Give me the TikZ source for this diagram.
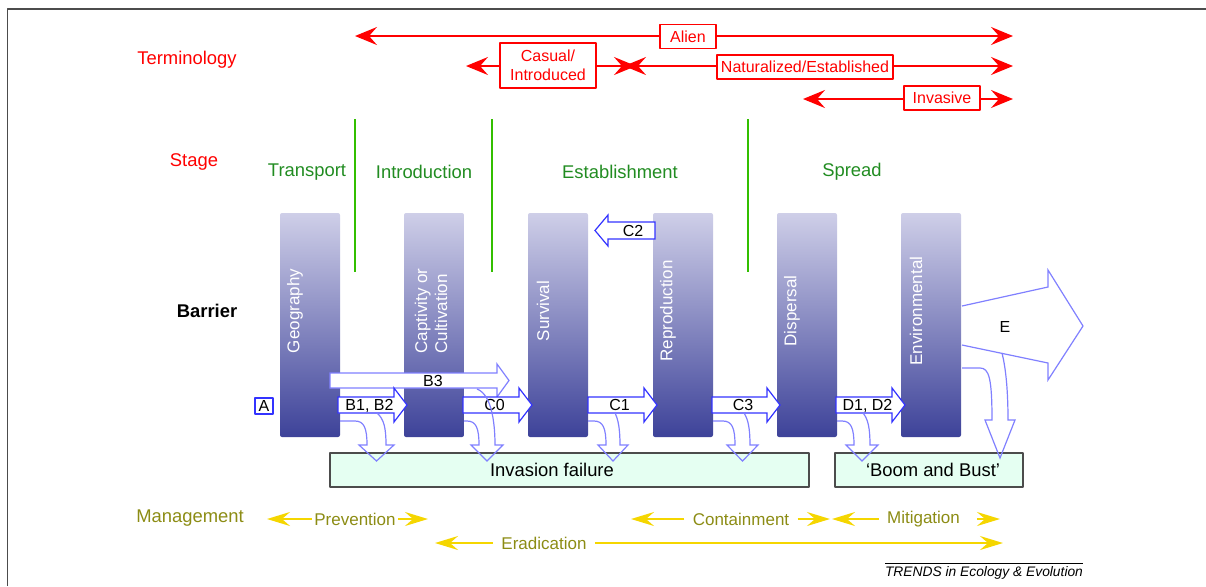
\documentclass[tikz,border=0pt]{standalone}
\usepackage{fontspec}
\setmainfont{Liberation Sans}
\usepackage{tikz}
\usetikzlibrary{calc}
\usetikzlibrary{arrows.meta}
\definecolor{termred}{rgb}{1.,0.,0.}
\definecolor{stagegreen}{rgb}{0.13,0.55,0.13}
\definecolor{stageline}{rgb}{0.2,0.75,0.}
\definecolor{mgmtolive}{rgb}{0.55,0.55,0.08}
\definecolor{mgmtgold}{rgb}{0.96,0.84,0.}
\definecolor{bartop}{rgb}{0.81,0.81,0.91}
\definecolor{barbot}{rgb}{0.24,0.26,0.6}
\definecolor{passblue}{rgb}{0.2,0.2,1.}
\definecolor{failblue}{rgb}{0.5,0.5,1.}
\definecolor{boxmint}{rgb}{0.9,1.,0.95}
\definecolor{framegray}{rgb}{0.3,0.3,0.3}
\tikzstyle{every node}=[font=\fontsize{9.2}{11}\selectfont]
\tikzstyle{termbox}=[draw=termred, fill=white, line width=0.75pt, text=termred, font=\fontsize{8}{9.5}\selectfont, inner sep=1.5pt, minimum height=12pt, align=center]
\tikzstyle{termarrow}=[{Stealth[length=11pt,width=9pt,inset=4pt]}-{Stealth[length=11pt,width=9pt,inset=4pt]}, termred, line width=1pt]
\tikzstyle{stagetext}=[text=stagegreen]
\tikzstyle{stagerule}=[stageline, line width=1pt]
\tikzstyle{barrier}=[top color=bartop, bottom color=barbot, minimum width=30pt, minimum height=112pt, rounded corners=1pt, inner sep=0pt]
\tikzstyle{bartext}=[text=white, rotate=90, font=\fontsize{8.5}{10}\selectfont, align=left]
\tikzstyle{passarrow}=[draw=passblue, fill=white, line width=0.6pt, line join=miter]
\tikzstyle{paleaarrow}=[draw=failblue, fill=white, line width=0.6pt, line join=miter]
\tikzstyle{failarrow}=[draw=failblue, line width=0.6pt, line join=miter]
\tikzstyle{passlabel}=[font=\fontsize{8}{9.5}\selectfont, inner sep=0pt]
\tikzstyle{outcome}=[draw=framegray, fill=boxmint, line width=0.6pt, minimum height=17pt, inner sep=0pt]
\tikzstyle{mgmttext}=[text=mgmtolive, font=\fontsize{8.5}{10}\selectfont, inner sep=4pt]
\tikzstyle{mgmtarrow}=[-{Stealth[length=11.5pt,width=7pt,inset=4pt]}, mgmtgold, line width=1pt]

\begin{document}
\begin{tikzpicture}[line cap=butt,line join=round,x=0.5pt,y=-0.5pt]
    \useasboundingbox (0,0) rectangle (1206,586);
    \draw [framegray, line width=0.9pt] (7.5,586) -- (7.5,9) -- (1206,9);
    % row titles
    \node[text=termred] (terminology) at (187,60) {Terminology};
    \node[text=termred] (stage) at (194,162) {Stage};
    \node[font=\fontsize{9.2}{11}\selectfont\bfseries] (barrier) at (207,311) {Barrier};
    \node[text=mgmtolive] (management) at (190,518) {Management};
    % terminology
    \coordinate (alienL) at (355,36);
    \coordinate (alienR) at (1013,36);
    \coordinate (casualL) at (466,66);
    \coordinate (casualR) at (636,66);
    \coordinate (naturalL) at (624,66);
    \coordinate (naturalR) at (1013,66);
    \coordinate (invasiveL) at (803,99);
    \coordinate (invasiveR) at (1013,99);
    \draw [termarrow] (alienL) -- (alienR);
    \draw [termarrow] (casualL) -- (casualR);
    \draw [termarrow] (naturalL) -- (naturalR);
    \draw [termarrow] (invasiveL) -- (invasiveR);
    \node[termbox, minimum width=28pt] (alien) at (688,36.5) {Alien};
    \node[termbox, minimum width=48pt, minimum height=22.5pt] (casual) at (548,65.5) {Casual/\\Introduced};
    \node[termbox, minimum width=88pt] (natural) at (805,67) {Naturalized/Established};
    \node[termbox, minimum width=38pt] (invasive) at (942,98) {Invasive};
    % stages
    \node[stagetext] (transport) at (307,172) {Transport};
    \node[stagetext] (introduction) at (424,172) {Introduction};
    \node[stagetext] (establishment) at (620,172) {Establishment};
    \node[stagetext] (spread) at (852,172) {Spread};
    \foreach \sx in {355,492,748}
        \draw [stagerule] (\sx,119) -- (\sx,272);
    % barriers
    \foreach \bx/\bname in {310/geo,434/capt,558/surv,683/repro,807/disp,931/env}
        \node[barrier] (bar\bname) at (\bx,325) {};
    \node[bartext] (geotext) at (295,311) {Geography};
    \node[bartext] (capttext) at (431,311) {Captivity or\\Cultivation};
    \node[bartext] (survtext) at (543,311) {Survival};
    \node[bartext] (reprotext) at (668,311) {Reproduction};
    \node[bartext] (disptext) at (792,311) {Dispersal};
    \node[bartext] (envtext) at (916,311) {Environmental};
    % passage arrows
    \draw [paleaarrow] (330,373) -- (497,373) -- (497,364) -- (509,380.5) -- (497,397) -- (497,388) -- (330,388) -- cycle;
    \node[passlabel] (b3) at (433,381) {B3};
    \foreach \xa/\xb/\lab in {338/407/{B1, B2},463/532/C0,588/657/C1,712/780/C3,836/905/{D1, D2}}{
        \draw [passarrow] (\xa,397) -- (\xb-13,397) -- (\xb-13,388) -- (\xb,405) -- (\xb-13,422) -- (\xb-13,413) -- (\xa,413) -- cycle;
        \node[passlabel, anchor=base] at ({(\xa+\xb)/2-3},410.5) {\lab};
    }
    \draw [passarrow] (655,222) -- (608,222) -- (608,215) -- (595,230.5) -- (608,246) -- (608,239) -- (655,239) -- cycle;
    \node[passlabel] (c2) at (633,230.5) {C2};
    \node[passlabel, draw=passblue, fill=white, line width=0.6pt, minimum width=9pt, minimum height=8pt] (a) at (264,406) {A};
    \draw [paleaarrow] (962,306) -- (1048,287) -- (1048,270) -- (1083,326) -- (1048,380) -- (1048,363) -- (962,345);
    \node[passlabel] (e) at (1005,327) {E};
    % outcomes
    \node[outcome, minimum width=239.5pt] (failure) at (569.5,470) {};
    \node (failuretext) at (552,470) {Invasion failure};
    \node[outcome, minimum width=94pt] (boom) at (929,470) {\hspace*{4pt}‘Boom and Bust’};
    \foreach \xa/\sl/\sr/\xo/\yo in {340/367/386/377/413,464/479/495/477/389,588/606/620/615/413,713/735/750/744/413,837/854/870/863/413}
        \draw [failarrow] (\xa,421) -- (\sl-12,421) .. controls (\sl-3,421) and (\sl,428) .. (\sl,445) -- (\sl-8,445) -- ({(\sl+\sr)/2},461) -- (\sr+8,445) -- (\sr,445) .. controls (\sr,428) and (\sr-2,\yo+6) .. (\xo,\yo);
    \draw [failarrow] (962,368) -- (980,368) .. controls (989,368) and (992,378) .. (992,420) -- (985,420) -- (1000,458) -- (1015,420) -- (1008,420) .. controls (1008,385) and (1005,365) .. (1002,353);
    % management
    \node[mgmttext, inner sep=1pt] (prevention) at (355,519) {Prevention};
    \node[mgmttext] (eradication) at (544,543) {Eradication};
    \node[mgmttext] (containment) at (741,519) {Containment};
    \node[mgmttext] (mitigation) at (923.5,519) {Mitigation};
    \coordinate (preventionL) at (267,519);
    \coordinate (preventionR) at (428,519);
    \coordinate (eradicationL) at (435,543);
    \coordinate (eradicationR) at (1003,543);
    \coordinate (containmentL) at (631,519);
    \coordinate (containmentR) at (830,519);
    \coordinate (mitigationL) at (832,519);
    \coordinate (mitigationR) at (1000,519);
    \draw [mgmtarrow] (prevention.west) -- (preventionL);
    \draw [mgmtarrow] (prevention.east) -- (preventionR);
    \draw [mgmtarrow] (eradication.west) -- (eradicationL);
    \draw [mgmtarrow] (eradication.east) -- (eradicationR);
    \draw [mgmtarrow] (containment.west) -- (containmentL);
    \draw [mgmtarrow] (containment.east) -- (containmentR);
    \draw [mgmtarrow] (mitigation.west) -- (mitigationL);
    \draw [mgmtarrow] ([xshift=4.5pt]mitigation.east) -- (mitigationR);
    % source line
    \coordinate (trendsL) at (885,563);
    \coordinate (trendsR) at (1083,563);
    \draw [line width=0.5pt] (trendsL) -- (trendsR);
    \node[font=\fontsize{6.9}{8}\selectfont\itshape] (trends) at (984,573) {TRENDS in Ecology \& Evolution};
\end{tikzpicture}
\end{document}
